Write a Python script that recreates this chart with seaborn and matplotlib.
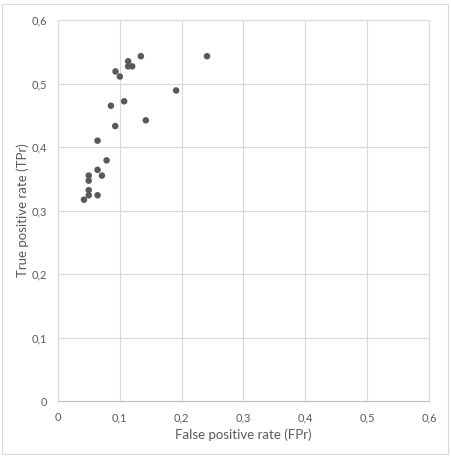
import matplotlib
matplotlib.use("Agg")
import matplotlib.pyplot as plt
import seaborn as sns
import pandas as pd
from matplotlib.patches import Rectangle

# values
fpr = [0.241, 0.134, 0.1135, 0.1135, 0.120, 0.093, 0.100, 0.191, 0.107, 0.0856, 0.142,
       0.0926, 0.064, 0.0786, 0.064, 0.071, 0.0497, 0.0497, 0.0497, 0.0497, 0.064, 0.042]
tpr = [0.543, 0.543, 0.535, 0.527, 0.527, 0.519, 0.511, 0.489, 0.472, 0.465, 0.442,
       0.433, 0.410, 0.379, 0.364, 0.355, 0.355, 0.347, 0.332, 0.324, 0.324, 0.317]
tick_values = [0, 0.1, 0.2, 0.3, 0.4, 0.5, 0.6]
tick_labels = ["0", "0,1", "0,2", "0,3", "0,4", "0,5", "0,6"]

df = pd.DataFrame({"FPr": fpr, "TPr": tpr})

sns.set_style("white")
plt.rcParams["font.family"] = ["Lato", "DejaVu Sans"]

text_col = "#595959"
grid_col = "#d9d9d9"

fig = plt.figure(figsize=(4.52, 4.58), dpi=100)
ax = fig.add_axes([58 / 452, 57 / 458, 371 / 452, 381 / 458])

sns.scatterplot(data=df, x="FPr", y="TPr", ax=ax, color="#595959", s=22,
                edgecolor="none", zorder=3)

ax.set_xlim(0, 0.6)
ax.set_ylim(0, 0.6)
ax.set_xticks(tick_values)
ax.set_xticklabels(tick_labels)
ax.set_yticks(tick_values)
ax.set_yticklabels(tick_labels)
ax.tick_params(length=0, labelsize=8, colors=text_col, pad=8)
ax.grid(True, color=grid_col, linewidth=0.8)
ax.set_axisbelow(True)
for name, sp in ax.spines.items():
    sp.set_color(grid_col)
    sp.set_linewidth(0.8)
ax.spines["bottom"].set_color("#bfbfbf")

ax.set_xlabel("False positive rate (FPr)", fontsize=9.5, color=text_col, labelpad=4)
ax.set_ylabel("True positive rate (TPr)", fontsize=9.5, color=text_col, labelpad=2)

fig.patches.append(Rectangle((2 / 452, 4 / 458), 446 / 452, 450 / 458,
                             transform=fig.transFigure, fill=False,
                             edgecolor="#d9d9d9", linewidth=0.8))

fig.savefig("out.png", dpi=100)
